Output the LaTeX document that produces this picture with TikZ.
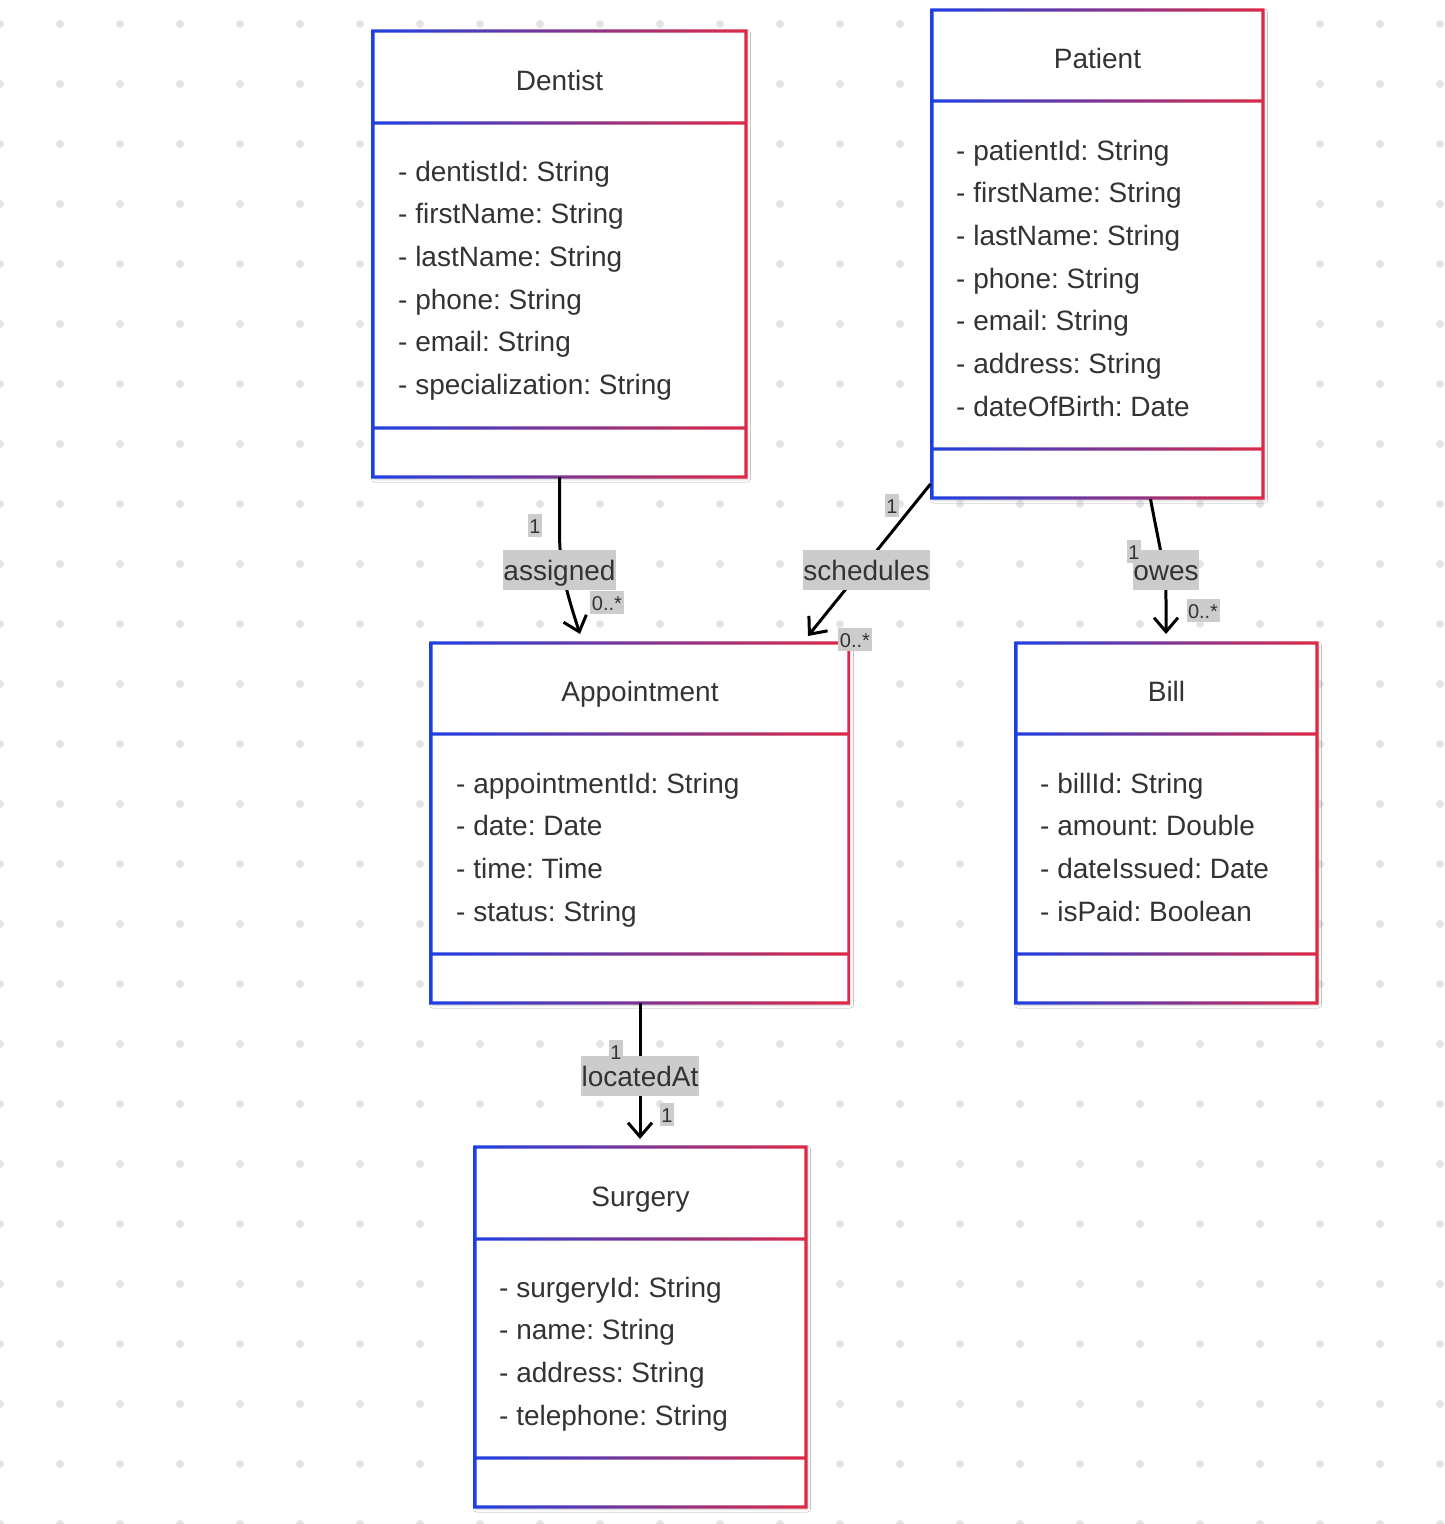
\documentclass[tikz,border=0pt]{standalone}
\usepackage{fontspec}
\setmainfont{Liberation Sans}
\usetikzlibrary{arrows.meta,fit,shadows.blur}
\definecolor{ublue}{HTML}{1E40E2}
\definecolor{ured}{HTML}{DD2A45}
\definecolor{dotc}{HTML}{E4E4E7}
\definecolor{txt}{HTML}{333333}
\definecolor{lblbg}{HTML}{CCCCCC}
\frenchspacing
\newcommand{\umlframe}[7]{%
  \node[boxbg, fit={(#2,#3) (#4,#5)}] (#1) {};
  \shade[left color=ublue, right color=ured, even odd rule]
    (#2-1.6,#3-1.6) rectangle (#4+1.6,#5+1.6)
    (#2+1.6,#3+1.6) rectangle (#4-1.6,#5-1.6)
    (#2+1.6,#6-1.6) rectangle (#4-1.6,#6+1.6)
    (#2+1.6,#7-1.6) rectangle (#4-1.6,#7+1.6);
}
\newcommand{\umlattrs}[4]{%
  \foreach \t [count=\i] in {#4}
    \node[attr] (#1-\i) at (#2,{#3+10+42.7*(\i-1)}) {\t};
}
\begin{document}
\begin{tikzpicture}[x=1pt,y=-1pt,
  boxbg/.style={inner sep=0pt, fill=white, blur shadow={shadow xshift=1.5pt, shadow yshift=-2pt, shadow blur radius=3pt, shadow opacity=18}},
  attr/.style={anchor=base west, inner sep=0pt, text=txt, font=\fontsize{28}{34}\selectfont},
  title/.style={anchor=base, inner sep=0pt, text=txt, font=\fontsize{28}{34}\selectfont},
  rel/.style={anchor=base, fill=lblbg, text=txt, inner xsep=0.5pt, inner ysep=0pt, text height=30pt, text depth=10pt, font=\fontsize{28}{34}\selectfont},
  mult/.style={anchor=base, fill=lblbg, text=txt, inner xsep=1.5pt, inner ysep=0pt, text height=19pt, text depth=4pt, font=\fontsize{20}{24}\selectfont},
  conn/.style={line width=3pt, draw=black, -{Straight Barb[length=14pt,width=24pt]}}
]
\useasboundingbox (0,0) rectangle (1444,1524);
\fill[white] (0,0) rectangle (1444,1524);
\foreach \x in {0,60,...,1440}
  \foreach \y in {24,84,...,1524}
    \fill[dotc] (\x,\y) circle[radius=4];

% classes
\umlframe{dentist}{373}{31}{746}{477}{123}{428}
\node[title] (dentist-t) at (559.5,90) {Dentist};
\umlattrs{dentist}{398}{171}{- dentistId: String,- firstName: String,- lastName: String,- phone: String,- email: String,- specialization: String}

\umlframe{patient}{932}{10}{1263}{498}{101}{449}
\node[title] (patient-t) at (1097.5,68) {Patient};
\umlattrs{patient}{956}{150}{- patientId: String,- firstName: String,- lastName: String,- phone: String,- email: String,- address: String,- dateOfBirth: Date}

\umlframe{appointment}{431}{643}{849}{1003}{734}{954}
\node[title] (appointment-t) at (640,701) {Appointment};
\umlattrs{appointment}{456}{783}{- appointmentId: String,- date: Date,- time: Time,- status: String}

\umlframe{bill}{1016}{643}{1317}{1003}{734}{954}
\node[title] (bill-t) at (1166.5,701) {Bill};
\umlattrs{bill}{1040}{783}{- billId: String,- amount: Double,- dateIssued: Date,- isPaid: Boolean}

\umlframe{surgery}{475}{1147}{806}{1507}{1239}{1458}
\node[title] (surgery-t) at (640.5,1206) {Surgery};
\umlattrs{surgery}{499}{1287}{- surgeryId: String,- name: String,- address: String,- telephone: String}

% connector points
\coordinate (c1) at (559.5,530);
\coordinate (t1) at (580,634);
\coordinate (s2) at (930.5,484);
\coordinate (t2) at (808,636);
\coordinate (s3) at (1150.5,499);
\coordinate (c3) at (1166,600);
\coordinate (t3) at (1166,634);
\coordinate (t4) at (640,1139);

\draw[conn] (dentist.south) -- (c1) .. controls (559.5,562) and (563,582) .. (t1);
\draw[conn] (s2) -- (t2);
\draw[conn] (s3) .. controls (1160,550) and (1166,570) .. (c3) -- (t3);
\draw[conn] (appointment.south) -- (t4);

% labels
\node[mult] (m1a) at (535,533) {1};
\node[rel] (r1) at (559.5,580) {assigned};
\node[mult] (m1b) at (607,610) {0..*};

\node[mult] (m2a) at (892,513) {1};
\node[rel] (r2) at (866.5,580) {schedules};
\node[mult] (m2b) at (855,647) {0..*};

\node[rel] (r3) at (1166,580) {owes};
\node[mult] (m3a) at (1134,559) {1};
\node[mult] (m3b) at (1203,618) {0..*};

\node[rel] (r4) at (640,1086) {locatedAt};
\node[mult] (m4a) at (616,1059) {1};
\node[mult] (m4b) at (667,1122) {1};
\end{tikzpicture}
\end{document}
